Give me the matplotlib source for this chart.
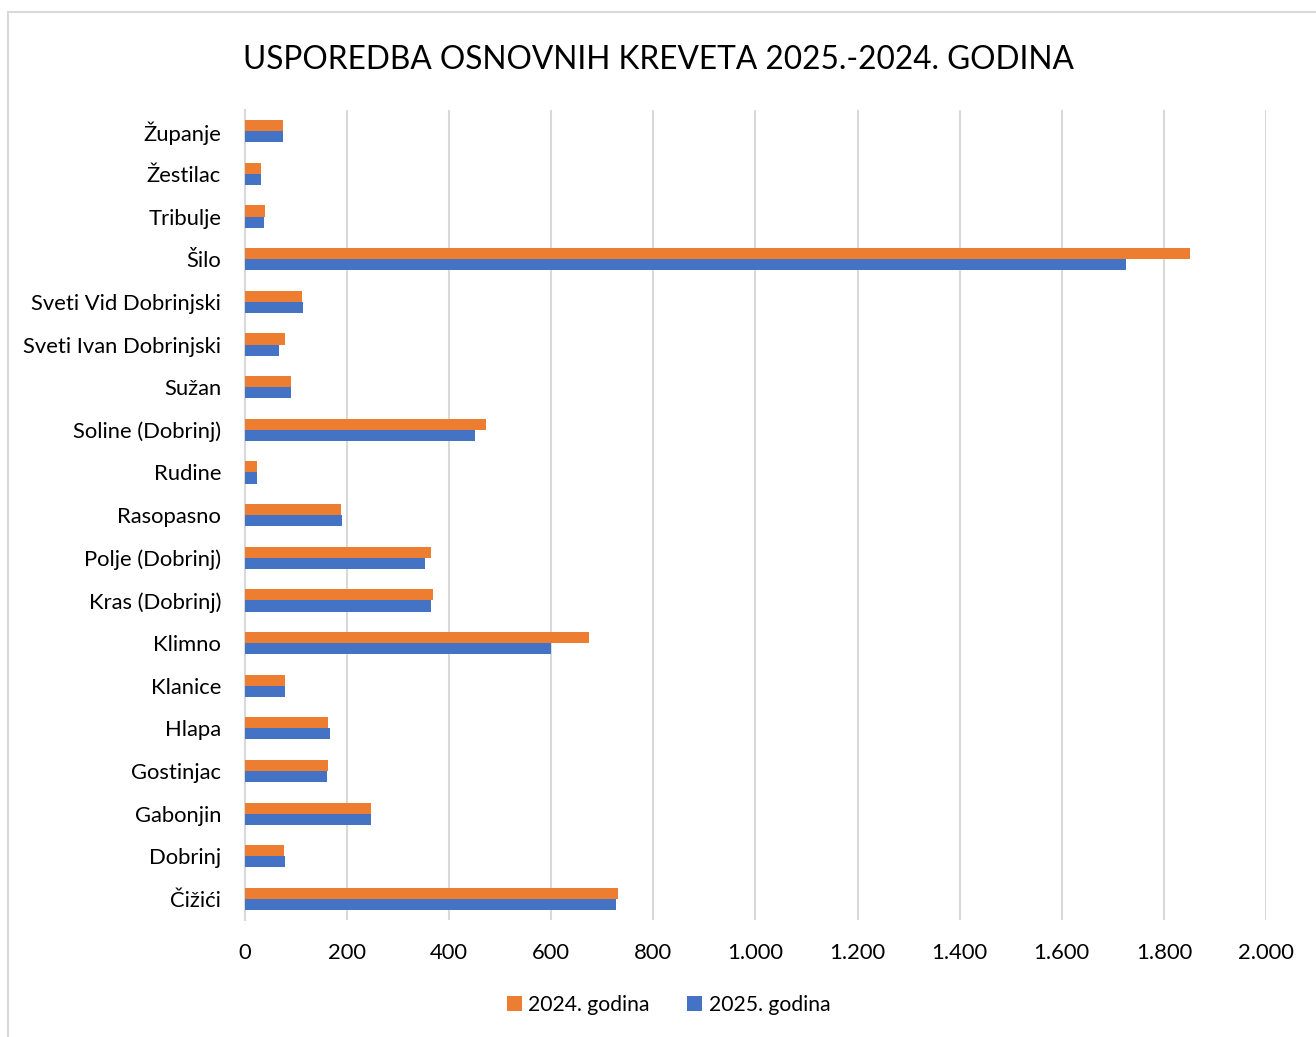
import matplotlib.pyplot as plt
from matplotlib.patches import Rectangle
import numpy as np

plt.rcParams['font.family'] = ['Lato', 'DejaVu Sans']

# categories listed bottom to top, as drawn on the y axis
places = ['Čižići', 'Dobrinj', 'Gabonjin', 'Gostinjac', 'Hlapa', 'Klanice', 'Klimno',
          'Kras (Dobrinj)', 'Polje (Dobrinj)', 'Rasopasno', 'Rudine', 'Soline (Dobrinj)',
          'Sužan', 'Sveti Ivan Dobrinjski', 'Sveti Vid Dobrinjski', 'Šilo', 'Tribulje',
          'Žestilac', 'Županje']
beds_2024 = [731, 77, 247, 163, 163, 79, 674, 368, 365, 188, 24, 472,
             91, 78, 113, 1851, 40, 32, 74]
beds_2025 = [727, 78, 248, 162, 167, 79, 599, 365, 353, 190, 24, 451,
             90, 68, 115, 1725, 38, 32, 74]
xticks = np.arange(0, 2001, 200)
xtick_labels = ['0', '200', '400', '600', '800', '1.000', '1.200', '1.400', '1.600', '1.800', '2.000']

fig = plt.figure(figsize=(13.16, 10.37), dpi=100)
ax = fig.add_axes([0.186, 0.1125, 0.776, 0.7815])

y = np.arange(len(places))
h = 0.26
ax.barh(y + h / 2, beds_2024, height=h, color='#ED7D31', label='2024. godina', zorder=3)
ax.barh(y - h / 2, beds_2025, height=h, color='#4472C4', label='2025. godina', zorder=3)

ax.set_xlim(0, 2000)
ax.set_ylim(-0.5, len(places) - 0.5)
ax.set_xticks(xticks)
ax.set_xticklabels(xtick_labels)
ax.set_yticks(y)
ax.set_yticklabels(places)
ax.tick_params(axis='both', length=0, labelsize=15.8, colors='#000000')
ax.tick_params(axis='y', pad=17)
ax.tick_params(axis='x', pad=16)
ax.grid(axis='x', color='#d9d9d9', linewidth=1.5, zorder=0)
for s in ['top', 'right', 'bottom']:
    ax.spines[s].set_visible(False)
ax.spines['left'].set_color('#d9d9d9')
ax.spines['left'].set_linewidth(1.5)

fig.text(0.5, 0.942, 'USPOREDBA OSNOVNIH KREVETA 2025.-2024. GODINA', ha='center', va='center',
         fontsize=22.8)

fig.legend(loc='center', bbox_to_anchor=(0.508, 0.031), ncol=2, frameon=False, fontsize=15.2,
           handlelength=0.7, handleheight=0.7, handletextpad=0.3, columnspacing=1.8)

fig.patches.append(Rectangle((8 / 1316, -0.01), 1.0, 1 - 12 / 1037 + 0.01, transform=fig.transFigure,
                             fill=False, edgecolor='#d9d9d9', linewidth=1.5))

fig.savefig('out.png', dpi=100, facecolor='white')
